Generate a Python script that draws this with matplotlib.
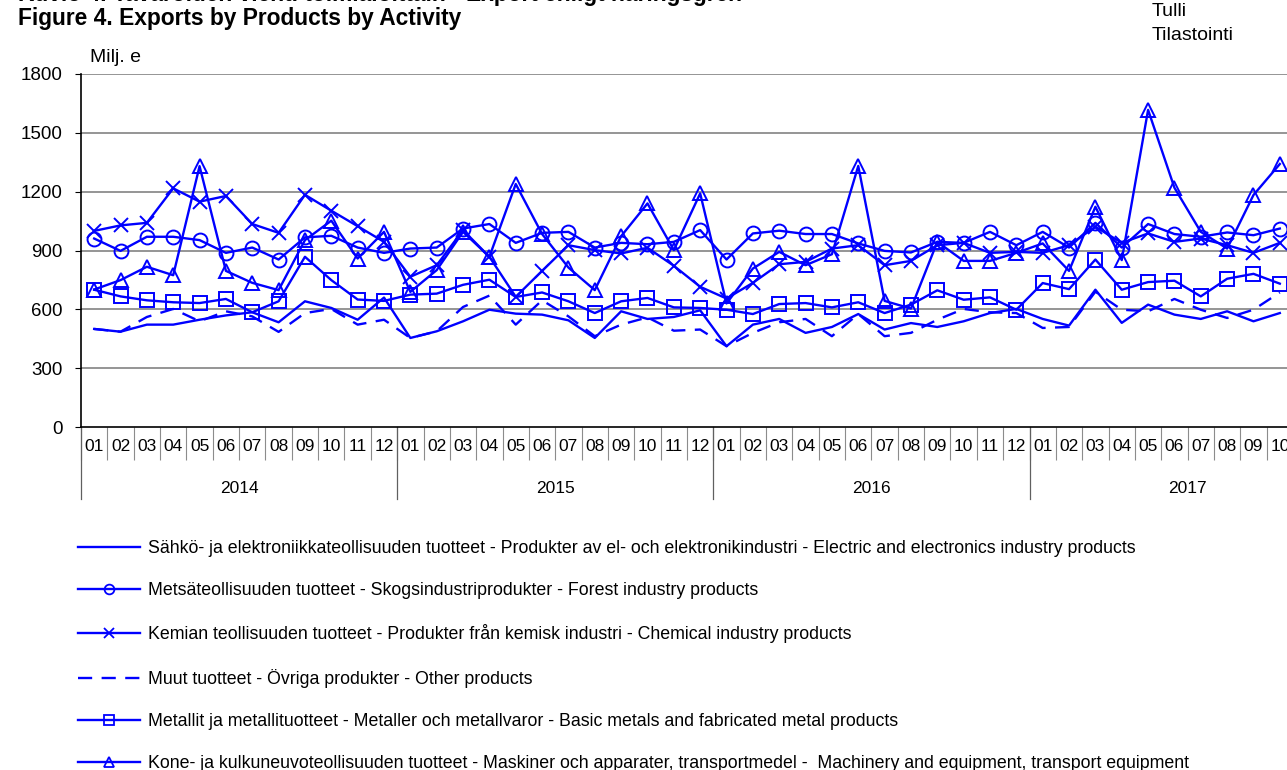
import matplotlib
matplotlib.use('Agg')
import matplotlib.pyplot as plt
from matplotlib.lines import Line2D

plt.rcParams['font.family'] = ['Liberation Sans', 'DejaVu Sans']

# data: monthly exports, Milj. e, 2014-01 .. 2017-10
years = ['2014', '2015', '2016', '2017']
months = ['01', '02', '03', '04', '05', '06', '07', '08', '09', '10', '11', '12']
month_labels = months * 3 + months[:10]

electric = [500, 486, 522, 522, 547, 569, 585, 534, 641, 607, 547, 660,
            454, 488, 539, 598, 578, 573, 544, 454, 590, 551, 561, 595,
            412, 522, 551, 480, 510, 576, 497, 530, 510, 539, 581, 602,
            551, 517, 700, 531, 624, 573, 551, 590, 539, 581]
forest = [961, 898, 970, 970, 953, 888, 915, 854, 967, 975, 915, 888,
          910, 915, 1012, 1035, 939, 990, 995, 915, 939, 932, 944, 1004,
          854, 987, 1001, 984, 984, 936, 898, 890, 944, 939, 995, 927,
          995, 915, 1041, 915, 1035, 984, 970, 992, 978, 1012]
chemical = [1000, 1028, 1041, 1217, 1149, 1178, 1035, 990, 1184, 1103, 1024, 944,
            766, 825, 1004, 868, 664, 796, 927, 902, 885, 914, 822, 715,
            655, 735, 830, 842, 910, 927, 825, 847, 927, 939, 888, 893,
            888, 927, 1021, 939, 987, 944, 961, 927, 888, 939]
other = [500, 486, 561, 602, 539, 590, 564, 485, 581, 602, 522, 547,
         454, 488, 612, 670, 522, 646, 564, 463, 522, 559, 491, 497,
         412, 480, 534, 551, 463, 576, 463, 480, 547, 602, 585, 581,
         505, 510, 690, 598, 590, 653, 598, 556, 598, 686]
metals = [700, 666, 646, 636, 632, 653, 585, 641, 868, 749, 650, 643,
          675, 680, 725, 751, 663, 686, 641, 581, 641, 658, 610, 607,
          598, 576, 627, 632, 610, 636, 581, 624, 697, 649, 661, 598,
          734, 703, 854, 700, 739, 746, 666, 756, 781, 731]
machinery = [701, 749, 817, 774, 1330, 796, 735, 698, 953, 1052, 859, 995,
             689, 800, 995, 868, 1239, 984, 813, 698, 973, 1140, 902, 1191,
             630, 808, 893, 825, 881, 1331, 643, 604, 944, 847, 847, 888,
             936, 796, 1123, 851, 1617, 1220, 995, 910, 1183, 1341]

labels = [
    'Sähkö- ja elektroniikkateollisuuden tuotteet - Produkter av el- och elektronikindustri - Electric and electronics industry products',
    'Metsäteollisuuden tuotteet - Skogsindustriprodukter - Forest industry products',
    'Kemian teollisuuden tuotteet - Produkter från kemisk industri - Chemical industry products',
    'Muut tuotteet - Övriga produkter - Other products',
    'Metallit ja metallituotteet - Metaller och metallvaror - Basic metals and fabricated metal products',
    'Kone- ja kulkuneuvoteollisuuden tuotteet - Maskiner och apparater, transportmedel -  Machinery and equipment, transport equipment',
]

blue = '#0000ff'
n = len(electric)
x = [i + 0.5 for i in range(n)]

fig = plt.figure(figsize=(12.87, 7.70), dpi=100)
ax = fig.add_axes([81 / 1287, 1 - 427 / 770, 1212 / 1287, 353 / 770])

lw = 1.7
ms = 10
mk = dict(markerfacecolor='none', markeredgecolor=blue, markeredgewidth=1.4, markersize=ms)
ax.plot(x, electric, color=blue, lw=lw)
ax.plot(x, forest, color=blue, lw=lw, marker='o', **mk)
ax.plot(x, chemical, color=blue, lw=lw, marker='x', **mk)
ax.plot(x, other, color=blue, lw=lw, dashes=(6, 4))
ax.plot(x, metals, color=blue, lw=lw, marker='s', **mk)
ax.plot(x, machinery, color=blue, lw=lw, marker='^', **mk)

ax.set_ylim(0, 1800)
ax.set_xlim(0, n)
ax.set_yticks(range(0, 1801, 300))
ax.tick_params(axis='y', labelsize=13.5, length=4, width=0.8, pad=9)
for yv in range(300, 1801, 300):
    ax.axhline(yv, color='#8c8c8c', lw=1.3, zorder=0)
for s in ['top', 'right']:
    ax.spines[s].set_visible(False)
ax.spines['left'].set_linewidth(1.2)
ax.spines['bottom'].set_linewidth(1.2)

# month divider ticks and labels
ax.set_xticks(range(0, n + 1))
ax.set_xticklabels([])
ax.tick_params(axis='x', which='major', length=24, color='#8c8c8c', width=0.8)
for i, m in enumerate(month_labels):
    ax.text(i + 0.5, -0.055, m, transform=ax.get_xaxis_transform(),
            ha='center', va='center', fontsize=12.5)
for k, yr in enumerate(years):
    ax.axvline(12 * k, ymin=-0.205, ymax=0, color='#606060', lw=0.9, clip_on=False)
    ax.text(12 * k + 6, -0.175, yr, transform=ax.get_xaxis_transform(),
            ha='center', va='center', fontsize=12.5)

fig.text(90 / 1287, 1 - 58 / 770, 'Milj. e', fontsize=14, va='center', ha='left')
fig.text(18 / 1287, 1 - 18 / 770, 'Figure 4. Exports by Products by Activity',
         fontsize=16.4, fontweight='bold', va='center', ha='left')
fig.text(18 / 1287, 1 - 1 / 770, 'Kuvio 4. Tavaroiden vienti toimialoittain - Export enligt näringsgren',
         fontsize=16.4, fontweight='bold', va='baseline', ha='left')
fig.text(1152 / 1287, 1 - 12 / 770, 'Tulli', fontsize=14, va='center', ha='left')
fig.text(1152 / 1287, 1 - 36 / 770, 'Tilastointi', fontsize=14, va='center', ha='left')

lmk = dict(markerfacecolor='none', markeredgecolor=blue, markeredgewidth=1.3, markersize=7)
handles = [
    Line2D([], [], color=blue, lw=lw),
    Line2D([], [], color=blue, lw=lw, marker='o', **lmk),
    Line2D([], [], color=blue, lw=lw, marker='x', **lmk),
    Line2D([], [], color=blue, lw=lw, dashes=(6, 4)),
    Line2D([], [], color=blue, lw=lw, marker='s', **lmk),
    Line2D([], [], color=blue, lw=lw, marker='^', **lmk),
]
fig.legend(handles, labels, loc='upper left', bbox_to_anchor=(62 / 1287, 1 - 524 / 770),
           frameon=False, fontsize=12.8, handlelength=3.5, handletextpad=0.45,
           labelspacing=1.42, numpoints=1)

fig.savefig('out.png', dpi=100)
